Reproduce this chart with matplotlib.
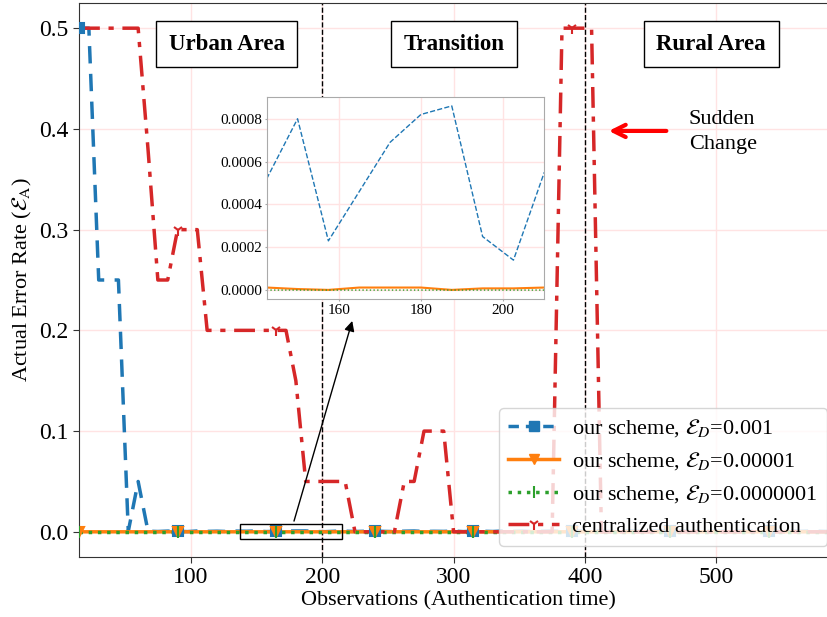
import numpy as np
import matplotlib
matplotlib.use("Agg")
import matplotlib.pyplot as plt
from matplotlib.lines import Line2D
from matplotlib.patches import Rectangle
from matplotlib.ticker import FormatStrFormatter

plt.rcParams["font.family"] = "serif"
plt.rcParams["font.serif"] = ["Liberation Serif", "DejaVu Serif"]
plt.rcParams["mathtext.fontset"] = "stix"

# ------------------------------------------------------------
# data (one sample every 7.5 observations, 15 .. 585)
# ------------------------------------------------------------
obs = np.arange(15, 585.1, 7.5)

central = [0.5, 0.5, 0.5, 0.5, 0.5, 0.5, 0.5, 0.38, 0.25, 0.25,
           0.3, 0.3, 0.3, 0.2, 0.2, 0.2, 0.2, 0.2, 0.2, 0.2,
           0.2, 0.2, 0.15, 0.05, 0.05, 0.05, 0.05, 0.05, 0.0, 0.0,
           0.0, 0.0, 0.0, 0.05, 0.05, 0.1, 0.1, 0.1, 0.0, 0.0,
           0.0, 0.0, 0.0, 0.0, 0.0, 0.0, 0.0, 0.0, 0.0, 0.5,
           0.5, 0.5, 0.5, 0.0, 0.0, 0.0, 0.0, 0.0, 0.0, 0.0,
           0.0, 0.0, 0.0, 0.0, 0.0, 0.0, 0.0, 0.0, 0.0, 0.0,
           0.0, 0.0, 0.0, 0.0, 0.0, 0.0, 0.0]

ours_1e3 = [0.5, 0.5, 0.25, 0.25, 0.25, 0.0005, 0.05, 0.0006, 0.0003, 0.0007,
            0.0005, 0.0002, 0.0008, 0.0004, 0.0006, 0.0003, 0.0007, 0.00052, 0.00080, 0.00023,
            0.00046, 0.00069, 0.00082, 0.00086, 0.00025, 0.00014, 0.00055, 0.0006, 0.0003, 0.0005,
            0.0007, 0.0004, 0.0002, 0.0006, 0.0008, 0.0003, 0.0005, 0.0004, 0.0007, 0.0002,
            0.0006, 0.0005, 0.0003, 0.0008, 0.0004, 0.0006, 0.0002, 0.0005, 0.0007, 0.0003,
            0.0004, 0.0006, 0.0008, 0.0005, 0.0002, 0.0004, 0.0007, 0.0003, 0.0006, 0.0005,
            0.0004, 0.0008, 0.0002, 0.0006, 0.0003, 0.0005, 0.0007, 0.0004, 0.0006, 0.0002,
            0.0005, 0.0003, 0.0007, 0.0004, 0.0006, 0.0005, 0.0003]

ours_1e5 = np.array([1.5, 1.2, 0.8, 1.0, 0.6, 1.1, 0.9, 1.2, 0.7, 1.0,
                     0.8, 1.1, 0.5, 0.9, 1.2, 0.7, 1.0, 1.2, 0.5, 0.1,
                     1.2, 1.2, 1.2, 0.1, 0.8, 0.8, 1.2, 0.9, 1.0, 0.6,
                     1.1, 0.8, 1.0, 0.7, 1.2, 0.9, 0.6, 1.0, 0.8, 1.1,
                     0.7, 1.0, 0.9, 1.2, 0.6, 0.8, 1.1, 0.9, 0.7, 1.0,
                     1.2, 0.8, 0.6, 1.0, 0.9, 1.1, 0.7, 0.8, 1.0, 1.2,
                     0.9, 0.6, 1.0, 0.8, 1.1, 0.7, 0.9, 1.0, 1.2, 0.8,
                     0.6, 1.0, 0.9, 1.1, 0.7, 0.8, 1.0]) * 1e-5

ours_1e7 = np.array([1.0, 0.9, 1.1, 0.8, 1.0, 1.2, 0.9, 1.0, 1.1, 0.8,
                     1.0, 0.9, 1.2, 1.0, 0.8, 1.1, 0.9, 1.0, 1.1, 0.9,
                     1.0, 0.8, 1.2, 1.0, 0.9, 1.1, 1.0, 0.8, 1.0, 1.1,
                     0.9, 1.0, 1.2, 0.8, 1.0, 0.9, 1.1, 1.0, 0.8, 1.0,
                     1.1, 0.9, 1.0, 1.2, 0.8, 1.0, 0.9, 1.1, 1.0, 0.8,
                     1.0, 1.1, 0.9, 1.0, 1.2, 0.8, 1.0, 0.9, 1.1, 1.0,
                     0.8, 1.0, 1.1, 0.9, 1.0, 1.2, 0.8, 1.0, 0.9, 1.1,
                     1.0, 0.8, 1.0, 1.1, 0.9, 1.0, 1.2]) * 1e-7

LABELS = [r"our scheme, $\mathcal{E}_D$=0.001",
          r"our scheme, $\mathcal{E}_D$=0.00001",
          r"our scheme, $\mathcal{E}_D$=0.0000001",
          "centralized authentication"]
ZONES = [(127.5, "Urban Area"), (300.5, "Transition"), (496, "Rural Area")]

C_BLUE, C_ORANGE, C_GREEN, C_RED = "#1f77b4", "#ff7f0e", "#2ca02c", "#d62728"
GRID = "#ffe3e3"
RED_LS = (0, (6, 2.5, 1.5, 2.5))

# ------------------------------------------------------------
fig = plt.figure(figsize=(8.28, 6.17), dpi=100)
ax = fig.add_axes([79 / 828, 60 / 617, 759 / 828, 554 / 617])

series = [
    (ours_1e3, C_BLUE, (0, (5, 3)), "s", 7),
    (ours_1e5, C_ORANGE, "-", "v", 7),
    (ours_1e7, C_GREEN, ":", "|", 8),
]
for vals, col, ls, mk, ms in series:
    ax.plot(obs, vals, color=col, ls=ls, lw=2.5, zorder=2)
ax.plot(obs, central, color=C_RED, ls=RED_LS, lw=2.5, zorder=3,
        marker="1", markevery=10, ms=8, mew=1.5)
# markers sit on top of the red line
for vals, col, ls, mk, ms in series:
    ax.plot(obs, vals, ls="none", marker=mk, ms=ms, color=col, markevery=10,
            mew=1.5, zorder=4)

ax.set_xlim(15, 592.5)
ax.set_ylim(-0.025, 0.525)
ax.set_xticks([100, 200, 300, 400, 500])
ax.set_yticks([0.0, 0.1, 0.2, 0.3, 0.4, 0.5])
ax.yaxis.set_major_formatter(FormatStrFormatter("%.1f"))
ax.tick_params(labelsize=17, length=4, color="#333333")
ax.grid(True, color=GRID, lw=1)
ax.set_axisbelow(True)
for s in ax.spines.values():
    s.set_color("#333333")
ax.set_xlabel("Observations (Authentication time)", fontsize=16, labelpad=2)
ax.set_ylabel(r"Actual Error Rate ($\mathcal{E}_\mathrm{A}$)", fontsize=16)

ax.axvline(200, color="black", ls="--", lw=1, zorder=1.5)
ax.axvline(400, color="black", ls="--", lw=1, zorder=1.5)

for xc, txt in ZONES:
    ax.text(xc, 0.484, txt, ha="center", va="center", fontsize=16.5,
            fontweight="bold", zorder=6,
            bbox=dict(boxstyle="square,pad=0.55", facecolor="white",
                      edgecolor="black", lw=1))

ax.text(479, 0.397, "Sudden\nChange", ha="left", va="center", fontsize=16,
        linespacing=1.4)
ax.annotate("", xy=(416, 0.398), xytext=(464, 0.398),
            arrowprops=dict(arrowstyle="->", color="red", lw=3,
                            mutation_scale=22))

ax.add_patch(Rectangle((137.5, -0.007), 77.5, 0.015, fill=False,
                       edgecolor="black", lw=1, zorder=5))
ax.annotate("", xy=(223.5, 0.212), xytext=(178, 0.008),
            arrowprops=dict(arrowstyle="-|>", color="black", lw=1,
                            mutation_scale=15), zorder=5)

handles = [
    Line2D([], [], color=C_BLUE, ls=(0, (3, 2)), lw=2.5, marker="s", ms=7),
    Line2D([], [], color=C_ORANGE, ls="-", lw=2.5, marker="v", ms=7),
    Line2D([], [], color=C_GREEN, ls=":", lw=2.5, marker="|", ms=8, mew=1.5),
    Line2D([], [], color=C_RED, ls=RED_LS, lw=2.5, marker="1", ms=8, mew=1.5),
]
ax.legend(handles, LABELS, loc="lower right", bbox_to_anchor=(0.9855, 0.0204),
          borderaxespad=0, fontsize=16, handlelength=2.3, handletextpad=0.6,
          labelspacing=0.5, framealpha=0.8)

# ------------------------------------------------------------
# zoomed inset
# ------------------------------------------------------------
ins = fig.add_axes([266.7 / 828, 1 - 299.3 / 617, 277.6 / 828, 202.6 / 617])
sl = slice(17, 27)
ins.plot(obs[sl], np.array(ours_1e3)[sl], color=C_BLUE, ls="--", lw=1)
ins.plot(obs[sl], ours_1e5[sl], color=C_ORANGE, ls="-", lw=1.5)
ins.plot(obs[sl], ours_1e7[sl], color=C_GREEN, ls=":", lw=1)
ins.set_xlim(142.5, 210)
ins.set_xticks([160, 180, 200])
ins.set_yticks([0.0, 0.0002, 0.0004, 0.0006, 0.0008])
ins.yaxis.set_major_formatter(FormatStrFormatter("%.4f"))
ins.tick_params(labelsize=11, length=1.5, pad=2, color="#aaaaaa")
ins.grid(True, color=GRID, lw=1)
for s in ins.spines.values():
    s.set_color("#aaaaaa")

fig.savefig("out.png", dpi=100)
